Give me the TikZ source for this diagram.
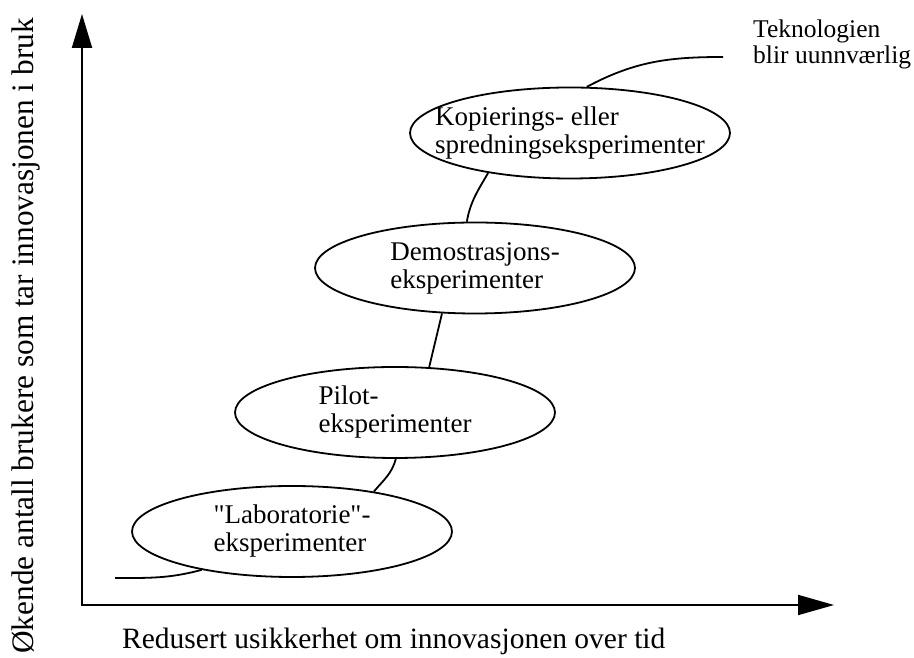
\documentclass[tikz,border=0pt]{standalone}
\usepackage{fontspec}
\setmainfont{Liberation Serif}[Ligatures=TeXOff]
\usetikzlibrary{arrows.meta, positioning, shapes.geometric}

\begin{document}
\begin{tikzpicture}[
    x=1pt, y=1pt,
    fase/.style={ellipse, draw=black, fill=white, line width=1.8pt, minimum width=320pt, minimum height=91pt, inner xsep=-30pt, inner ysep=0pt, align=left, font=\fontsize{27}{28}\selectfont},
    akse/.style={line width=2pt, line join=miter},
    kurve/.style={line width=1.8pt},
    tekst/.style={inner sep=0pt, align=left}
]
\useasboundingbox (0,0) rectangle (914,658);

% Axes
\coordinate (origo) at (82,53);
\coordinate (ytopp) at (82,644);
\coordinate (xtopp) at (834,53);
\draw[akse, {Triangle[length=34pt, width=20pt]}-{Triangle[length=36pt, width=20pt]}] (ytopp) -- (origo) -- (xtopp);

% Axis labels
\node[tekst, rotate=90, font=\fontsize{31.3}{33}\selectfont] (ytekst) at (26,322) {Økende antall brukere som tar innovasjonen i bruk};
\node[tekst, anchor=base west, font=\fontsize{29.5}{31}\selectfont] (xtekst) at (122,9) {Redusert usikkerhet om innovasjonen over tid};

% Phases
\node[fase] (lab) at (292,126.5) {"Laboratorie"-\\eksperimenter};
\node[fase] (pilot) at (395,245.5) {Pilot-\\eksperimenter};
\node[fase] (demo) at (475,390) {Demostrasjons-\\eksperimenter};
\node[fase] (kop) at (570,525) {Kopierings- eller\\spredningseksperimenter};

% End state
\node[tekst, anchor=west, font=\fontsize{25.5}{26}\selectfont] (tek) at (753,614) {Teknologien\\blir uunnværlig};
\coordinate (start) at (115,80);
\coordinate (topp) at (723,601);

% S-curve
\draw[kurve] (start) to[out=0, in=195] (lab.203);
\draw[kurve] (lab.26) to[out=50, in=255] (pilot.271);
\draw[kurve] (pilot.53) -- (demo.234);
\draw[kurve] (demo.100) to[out=80, in=240] (kop.206);
\draw[kurve] (kop.70) to[out=28, in=180] (topp);

\end{tikzpicture}
\end{document}
